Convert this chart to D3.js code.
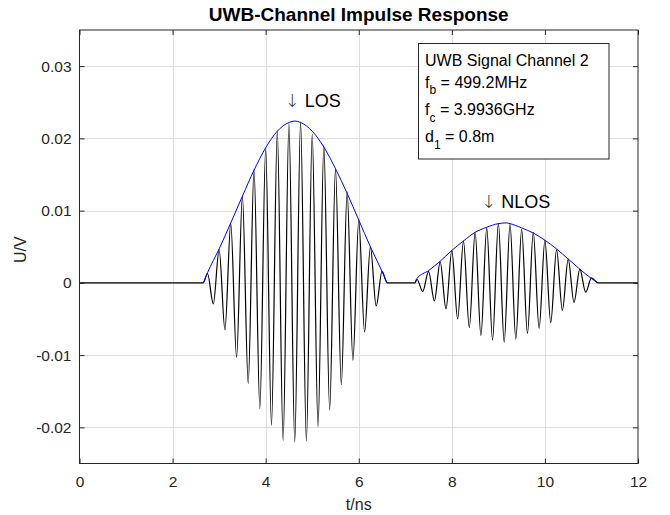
<!DOCTYPE html>
<html>
<head>
<meta charset="utf-8">
<script src="https://cdn.jsdelivr.net/npm/d3@7"></script>
<style>
  html, body { margin: 0; padding: 0; background: #fff; }
  svg { display: block; font-family: "Liberation Sans", Arial, Helvetica, sans-serif; }
</style>
</head>
<body>
<svg id="chart" width="670" height="515"></svg>
<script>
// ---------- data ----------
const chartTitle = "UWB-Channel Impulse Response";
const xLabel = "t/ns";
const yLabel = "U/V";

const xTicks = [0, 2, 4, 6, 8, 10, 12];
const xTickLabels = ["0", "2", "4", "6", "8", "10", "12"];
const yTicks = [-0.02, -0.01, 0, 0.01, 0.02, 0.03];
const yTickLabels = ["-0.02", "-0.01", "0", "0.01", "0.02", "0.03"];

const xDomain = [0, 12];
const yDomain = [-0.025, 0.035];

// LOS pulse: sample times (ns) of the drawn extrema and their voltages (V)
const losTime = [2.66, 2.75, 2.875, 3.0, 3.125, 3.25, 3.375, 3.5, 3.625, 3.75, 3.875, 4.0, 4.125, 4.25, 4.375, 4.5, 4.625,
                 4.75, 4.875, 5.0, 5.125, 5.25, 5.375, 5.5, 5.625, 5.75, 5.875, 6.0, 6.125, 6.25, 6.375, 6.5, 6.61];
const losVolt = [0, 0.0013, -0.0029, 0.0046, -0.0065, 0.0082, -0.0103, 0.0120, -0.0139, 0.0157, -0.0174, 0.0186, -0.0197, 0.0210, -0.0218, 0.0220, -0.0220,
                 0.0223, -0.0219, 0.0206, -0.0199, 0.0190, -0.0176, 0.0158, -0.0141, 0.0126, -0.0107, 0.0087, -0.0068, 0.0050, -0.0032, 0.0016, 0];

// NLOS pulse
const nlosTime = [7.21, 7.25, 7.375, 7.5, 7.625, 7.75, 7.875, 8.0, 8.125, 8.25, 8.375, 8.5, 8.625, 8.75, 8.875, 9.0, 9.125,
                  9.25, 9.375, 9.5, 9.625, 9.75, 9.875, 10.0, 10.125, 10.25, 10.375, 10.5, 10.625, 10.75, 10.875, 11.0, 11.14];
const nlosVolt = [0, 0.0005, -0.0012, 0.0016, -0.0025, 0.0029, -0.0036, 0.0045, -0.0050, 0.0058, -0.0062, 0.0070, -0.0073, 0.0076, -0.0079, 0.0082, -0.0082,
                  0.0081, -0.0078, 0.0074, -0.0070, 0.0070, -0.0063, 0.0059, -0.0055, 0.0046, -0.0038, 0.0033, -0.0027, 0.0019, -0.0013, 0.0007, 0];

// Envelopes (blue)
const losEnvTime = [2.66, 2.75, 3.0, 3.25, 3.5, 3.75, 4.0, 4.25, 4.5, 4.63, 4.75, 5.0, 5.25, 5.5, 5.75, 6.0, 6.25, 6.5, 6.61];
const losEnvVolt = [0, 0.0014, 0.0047, 0.0083, 0.0120, 0.0156, 0.0187, 0.0210, 0.0222, 0.0224, 0.0222, 0.0210, 0.0188, 0.0158, 0.0124, 0.0087, 0.0050, 0.0016, 0];
const nlosEnvTime = [7.21, 7.25, 7.5, 7.75, 8.0, 8.25, 8.5, 8.75, 9.0, 9.17, 9.25, 9.5, 9.75, 10.0, 10.25, 10.5, 10.75, 11.0, 11.14];
const nlosEnvVolt = [0, 0.0006, 0.0017, 0.0030, 0.0045, 0.0058, 0.0070, 0.0077, 0.0082, 0.0083, 0.0082, 0.0076, 0.0069, 0.0059, 0.0047, 0.0033, 0.0019, 0.0006, 0];

// Annotations
const peakArrow = "\u2193";
const peakLabels = ["LOS", "NLOS"];
const peakLabelTime = [4.41, 8.63];
const peakLabelVolt = [0.0252, 0.0113];

const infoLines = [
  {main: "UWB Signal Channel 2", sub: "", rest: ""},
  {main: "f", sub: "b", rest: " = 499.2MHz"},
  {main: "f", sub: "c", rest: " = 3.9936GHz"},
  {main: "d", sub: "1", rest: " = 0.8m"}
];

// ---------- layout ----------
const W = 670, H = 515;
const plot = {left: 79.5, right: 638, top: 30, bottom: 463.5};
const axisColor = "#262626";

const svg = d3.select("#chart");
svg.append("rect").attr("width", W).attr("height", H).attr("fill", "#fff");

const x = d3.scaleLinear().domain(xDomain).range([plot.left, plot.right]);
const y = d3.scaleLinear().domain(yDomain).range([plot.bottom, plot.top]);

// grid
const grid = svg.append("g").attr("stroke", "#dedede").attr("stroke-width", 1).attr("shape-rendering", "crispEdges");
grid.selectAll(".gx").data(xTicks.slice(1, -1)).join("line")
  .attr("x1", d => Math.round(x(d)) + 0.5).attr("x2", d => Math.round(x(d)) + 0.5)
  .attr("y1", plot.top).attr("y2", plot.bottom);
grid.selectAll(".gy").data(yTicks).join("line")
  .attr("y1", d => Math.round(y(d)) + 0.5).attr("y2", d => Math.round(y(d)) + 0.5)
  .attr("x1", plot.left).attr("x2", plot.right);

// signal
const wave = [[xDomain[0], 0]]
  .concat(losTime.map((t, i) => [t, losVolt[i]]))
  .concat(nlosTime.map((t, i) => [t, nlosVolt[i]]))
  .concat([[xDomain[1], 0]]);
const line = d3.line().x(d => x(d[0])).y(d => y(d[1])).curve(d3.curveMonotoneX);
svg.append("path").datum(wave).attr("d", line)
  .attr("fill", "none").attr("stroke", "#000").attr("stroke-width", 1.2);

// envelopes
const envLine = d3.line().x(d => x(d[0])).y(d => y(d[1])).curve(d3.curveMonotoneX);
[[losEnvTime, losEnvVolt], [nlosEnvTime, nlosEnvVolt]].forEach(([ts, vs]) => {
  svg.append("path").datum(ts.map((t, i) => [t, vs[i]])).attr("d", envLine)
    .attr("fill", "none").attr("stroke", "#0000ff").attr("stroke-width", 1);
});

// axes
const tickLen = 5;
const fontTick = "15.5px";
const ax = svg.append("g").attr("transform", `translate(0,${plot.bottom})`)
  .call(d3.axisBottom(x).tickValues(xTicks).tickFormat((d, i) => xTickLabels[i]).tickSize(-tickLen).tickPadding(12));
const ay = svg.append("g").attr("transform", `translate(${plot.left},0)`)
  .call(d3.axisLeft(y).tickValues(yTicks).tickFormat((d, i) => yTickLabels[i]).tickSize(-tickLen).tickPadding(8));
const axt = svg.append("g").attr("transform", `translate(0,${plot.top})`)
  .call(d3.axisTop(x).tickValues(xTicks).tickFormat("").tickSize(-tickLen));
const ayr = svg.append("g").attr("transform", `translate(${plot.right},0)`)
  .call(d3.axisRight(y).tickValues(yTicks).tickFormat("").tickSize(-tickLen));
[ax, ay, axt, ayr].forEach(g => {
  g.select(".domain").remove();
  g.selectAll("line").attr("stroke", axisColor);
  g.selectAll("text").attr("fill", axisColor).style("font-size", fontTick).style("font-family", "Liberation Sans, Arial, sans-serif");
});
svg.append("rect")
  .attr("x", plot.left).attr("y", plot.top)
  .attr("width", plot.right - plot.left).attr("height", plot.bottom - plot.top)
  .attr("fill", "none").attr("stroke", axisColor).attr("stroke-width", 1);

// axis labels
svg.append("text").attr("x", (plot.left + plot.right) / 2).attr("y", 510)
  .attr("text-anchor", "middle").attr("fill", axisColor).style("font-size", "16px").text(xLabel);
svg.append("text").attr("transform", `translate(26,${(plot.top + plot.bottom) / 2 + 3}) rotate(-90)`)
  .attr("text-anchor", "middle").attr("fill", axisColor).style("font-size", "16px").text(yLabel);

// title
svg.append("text").attr("x", (plot.left + plot.right) / 2).attr("y", 20.5)
  .attr("text-anchor", "middle").attr("fill", "#000").style("font-size", "19px").style("font-weight", "bold")
  .text(chartTitle);

// peak labels
peakLabels.forEach((lab, i) => {
  const t = svg.append("text").attr("x", x(peakLabelTime[i])).attr("y", y(peakLabelVolt[i]))
    .attr("dy", "0.35em").attr("fill", "#000").style("font-size", "18px");
  t.append("tspan").style("font-family", "DejaVu Sans, sans-serif").style("font-weight", "200")
    .attr("fill", "#333").text(peakArrow);
  t.append("tspan").text(" " + lab);
});

// info box
const box = {x: 418.5, y: 43.5, w: 190.5, h: 115.5};
svg.append("rect").attr("x", box.x).attr("y", box.y).attr("width", box.w).attr("height", box.h)
  .attr("fill", "#fff").attr("stroke", axisColor).attr("stroke-width", 1);
const baselines = [66, 87.5, 115, 142.3];
infoLines.forEach((ln, i) => {
  const t = svg.append("text").attr("x", 425).attr("y", baselines[i]).attr("fill", "#000").style("font-size", "16px");
  t.append("tspan").text(ln.main);
  if (ln.sub) {
    t.append("tspan").attr("dy", 6.5).style("font-size", "12px").text(ln.sub);
    t.append("tspan").attr("dy", -6.5).text(ln.rest);
  }
});
</script>
</body>
</html>
